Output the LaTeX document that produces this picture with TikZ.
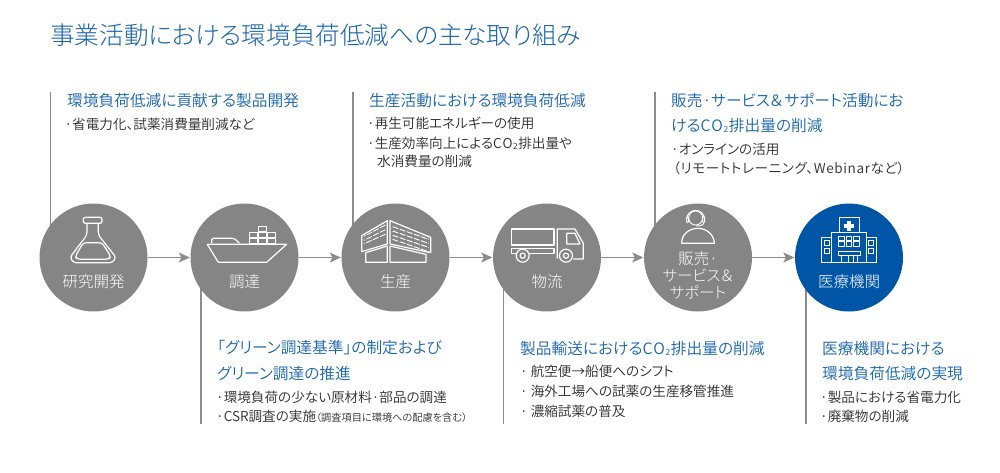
\documentclass[tikz,border=0pt]{standalone}
\usepackage{fontspec}
\setmainfont{Noto Sans CJK JP DemiLight}[RawFeature=+palt]
\newfontfamily\lightjp{Noto Sans CJK JP Light}[RawFeature=+palt]
\usetikzlibrary{arrows.meta,backgrounds}
\definecolor{circgray}{HTML}{858585}
\definecolor{linegray}{HTML}{8C8C8C}
\definecolor{medblue}{HTML}{0055A6}
\definecolor{headblue}{HTML}{1763AE}
\definecolor{bodytext}{HTML}{2B2B2B}
\tikzset{
  x=1pt,y=-1pt,
  stage/.style={circle,fill=circgray,minimum size=108pt,inner sep=0pt},
  medstage/.style={stage,fill=medblue},
  stagetext/.style={text=white,inner sep=0pt,anchor=base,font=\lightjp\fontsize{15.5}{15.5}\selectfont},
  titletext/.style={text=headblue,inner sep=0pt,anchor=base west,font=\lightjp\fontsize{24.6}{25}\selectfont},
  headtext/.style={text=headblue,inner sep=0pt,anchor=base west,font=\fontsize{15.7}{16}\selectfont},
  bodyline/.style={text=bodytext,inner sep=0pt,anchor=base west,font=\fontsize{13.6}{14}\selectfont},
  flow/.style={draw=linegray,line width=1.3pt,-{Stealth[length=11pt,width=10pt,inset=2.5pt]},shorten >=0.5pt},
  rule/.style={draw=linegray,line width=1.2pt},
  icon/.style={draw=white,line width=1.2pt,line join=round,fill=none},
  thinicon/.style={draw=white,line width=0.9pt,line join=round,fill=none},
}
\newcommand{\smallnote}[1]{{\fontsize{10.2}{11}\selectfont #1}}
\newcommand{\subtwo}{\raisebox{-0.12em}{\fontsize{8.5}{9}\selectfont 2}}
\newcommand{\coword}{C\kern0.06em O\kern0.04em\subtwo\kern0.04em}
\begin{document}
\begin{tikzpicture}
\useasboundingbox (0,0) rectangle (1000,472);
% stages
\node[stage] (c1) at (93.5,257.5) {};
\node[stage] (c2) at (244.5,257.5) {};
\node[stage] (c3) at (395.5,257.5) {};
\node[stage] (c4) at (547,257.5) {};
\node[stage] (c5) at (698,257.5) {};
\node[medstage] (c6) at (849,257.5) {};
% free ends of rules
\coordinate (t1) at (50.5,92);
\coordinate (t3) at (353,92);
\coordinate (t5) at (655,92);
\coordinate (b2) at (201,424);
\coordinate (b4) at (503.5,424);
\coordinate (b6) at (806,424);
\begin{pgfonlayer}{background}
\draw[rule] (t1) -- (t1 |- c1.center);
\draw[rule] (t3) -- (t3 |- c3.center);
\draw[rule] (t5) -- (t5 |- c5.center);
\draw[rule] (b2) -- (b2 |- c2.center);
\draw[rule] (b4) -- (b4 |- c4.center);
\draw[rule] (b6) -- (b6 |- c6.center);
\end{pgfonlayer}
\draw[flow] (c1) -- (c2);
\draw[flow] (c2) -- (c3);
\draw[flow] (c3) -- (c4);
\draw[flow] (c4) -- (c5);
\draw[flow] (c5) -- (c6);
% stage labels
\node[stagetext] (l1) at (93.5,287) {研究開発};
\node[stagetext] (l2) at (244.5,287) {調達};
\node[stagetext] (l3) at (395.5,287) {生産};
\node[stagetext] (l4) at (547,287) {物流};
\node[stagetext] (l5a) at (698,264) {販売·};
\node[stagetext] (l5b) at (698,281) {サービス＆};
\node[stagetext] (l5c) at (698,298) {サポート};
\node[stagetext] (l6) at (849,287) {医療機関};
% flask
\begin{scope}[shift={(30,200)},x=0.3333pt,y=-0.3333pt]
\draw[icon,rounded corners=2pt] (160,52) rectangle (216,70);
\draw[icon,rounded corners=3pt] (171,70) -- (171,105) -- (120,172) -- (130,188) -- (248,188) -- (258,172) -- (205,105) -- (205,70);
\draw[icon,rounded corners=3pt] (160,128) -- (216,128) -- (243,170) -- (235,178) -- (143,178) -- (135,170) -- cycle;
\end{scope}
% ship
\begin{scope}[shift={(30,200)},x=0.3333pt,y=-0.3333pt]
\draw[icon] (532,133) -- (770,133) -- (710,187) -- (565,187) -- cycle;
\draw[icon,rounded corners=1.5pt] (545,129) -- (545,115) -- (612,115) -- (628,129);
\foreach \xa/\ya in {685/80,657/98,685/98,711/98,657/116,685/116,711/116}{
  \draw[thinicon] (\xa,\ya) rectangle ++(24,14);
}
\end{scope}
% factory
\begin{scope}[shift={(330,200)},x=0.3333pt,y=-0.3333pt]
\draw[icon] (172,62) -- (95,107) -- (95,155) -- (172,132) -- cycle;
\draw[icon] (180,62) -- (302,112) -- (302,158) -- (180,132) -- cycle;
\draw[icon] (107,158) -- (172,138) -- (172,187) -- (107,187) -- cycle;
\draw[icon] (180,138) -- (288,163) -- (288,187) -- (180,187) -- cycle;
\foreach \ya/\yb in {88/112,102/124,116/134}{
  \draw[thinicon,dash pattern=on 6pt off 1.5pt] (166,\ya-13) -- (102,\yb-3);
}
\foreach \ya/\yb in {80/104,93/116,106/128,118/141}{
  \draw[thinicon,dash pattern=on 6pt off 1.5pt] (188,\ya) -- (296,\yb+14);
}
\end{scope}
% truck
\begin{scope}[shift={(330,200)},x=0.3333pt,y=-0.3333pt]
\draw[icon] (545,87) rectangle (672,135);
\draw[icon] (558,160) -- (545,160) -- (545,146) -- (672,146) -- (672,160) -- (598,160);
\draw[icon] (682,176) -- (682,87) -- (735,87) -- (760,130) -- (760,177) -- (730,177);
\draw[icon] (710,100) -- (735,100) -- (750,132) -- (710,132) -- cycle;
\draw[icon] (578,167) circle[radius=6.5pt];
\draw[icon] (578,167) circle[radius=2.6pt];
\draw[icon] (708,167) circle[radius=6.5pt];
\draw[icon] (708,167) circle[radius=2.6pt];
\end{scope}
% person with headset
\begin{scope}[shift={(630,200)},x=0.3333pt,y=-0.3333pt]
\draw[thinicon] (197,54) circle[radius=7pt];
\draw[thinicon] (170,58) arc[start angle=180,end angle=0,radius=9pt];
\draw[thinicon,rounded corners=1pt] (170,50) rectangle (176,68);
\draw[thinicon,rounded corners=1pt] (218,50) rectangle (224,68);
\draw[thinicon] (222,68) .. controls (220,76) and (210,78) .. (198,78);
\draw[icon] (155,130) .. controls (155,100) and (180,85) .. (204,85) .. controls (230,85) and (253,105) .. (253,130) -- cycle;
\end{scope}
% hospital
\begin{scope}[shift={(630,200)},x=0.3333pt,y=-0.3333pt]
\draw[thinicon] (627,98) -- (627,52) -- (688,52) -- (688,98);
\fill[white] (650,63) rectangle (662,93);
\fill[white] (641,72) rectangle (671,84);
\draw[thinicon] (605,187) -- (605,98) -- (708,98) -- (708,187);
\draw[thinicon] (605,112) -- (575,112) -- (575,187) -- (740,187) -- (740,112) -- (708,112);
\foreach \xa in {625,648,671}{
  \foreach \ya in {108,125}{
    \draw[thinicon] (\xa,\ya) rectangle ++(17,13);
  }
}
\foreach \ya in {122,145}{
  \draw[thinicon] (583,\ya) rectangle ++(15,14);
  \draw[thinicon] (716,\ya) rectangle ++(15,14);
}
\draw[thinicon] (625,155) rectangle (690,165);
\draw[thinicon] (635,165) -- (635,187) (655,165) -- (655,187) (670,165) -- (670,187) (682,165) -- (682,187);
\end{scope}
% title
\node[titletext] (title) at (50,44) {事業活動における環境負荷低減への主な取り組み};
% upper texts
\node[headtext] (h1) at (67,106) {環境負荷低減に貢献する製品開発};
\node[bodyline] (b1a) at (64.5,129) {·省電力化、試薬消費量削減など};
\node[headtext] (h3) at (369,106) {生産活動における環境負荷低減};
\node[bodyline] (b3a) at (367,128) {·再生可能エネルギーの使用};
\node[bodyline] (b3b) at (367,148) {·生産効率向上による\coword 排出量や};
\node[bodyline] (b3c) at (377,166) {水消費量の削減};
\node[headtext] (h5a) at (671,106) {販売·サービス＆\kern0.1emサポート活動にお};
\node[headtext] (h5b) at (671,131) {ける\coword 排出量の削減};
\node[bodyline] (b5a) at (671,154) {·オンラインの活用};
\node[bodyline,font=\fontsize{13.6}{14}\selectfont\addfontfeature{LetterSpace=4.5}] (b5b) at (673,173) {（リモートトレーニング、Webinarなど）};
% lower texts
\node[headtext] (h2a) at (217,353) {「グリーン調達基準」の制定および};
\node[headtext] (h2b) at (217,379) {グリーン調達の推進};
\node[bodyline] (b2a) at (216,402) {·環境負荷の少ない原材料·部品の調達};
\node[bodyline] (b2b) at (216,421) {·CSR調査の実施\smallnote{（調査項目に環境への配慮を含む）}};
\node[headtext] (h4) at (520,354) {製品輸送における\coword 排出量の削減};
\node[bodyline] (b4a) at (520,376) {· 航空便→船便へのシフト};
\node[bodyline] (b4b) at (520,396) {· 海外工場への試薬の生産移管推進};
\node[bodyline] (b4c) at (520,416) {· 濃縮試薬の普及};
\node[headtext] (h6a) at (822,354) {医療機関における};
\node[headtext] (h6b) at (822,379) {環境負荷低減の実現};
\node[bodyline] (b6a) at (820,402) {·製品における省電力化};
\node[bodyline] (b6b) at (820,421) {·廃棄物の削減};
\end{tikzpicture}
\end{document}
